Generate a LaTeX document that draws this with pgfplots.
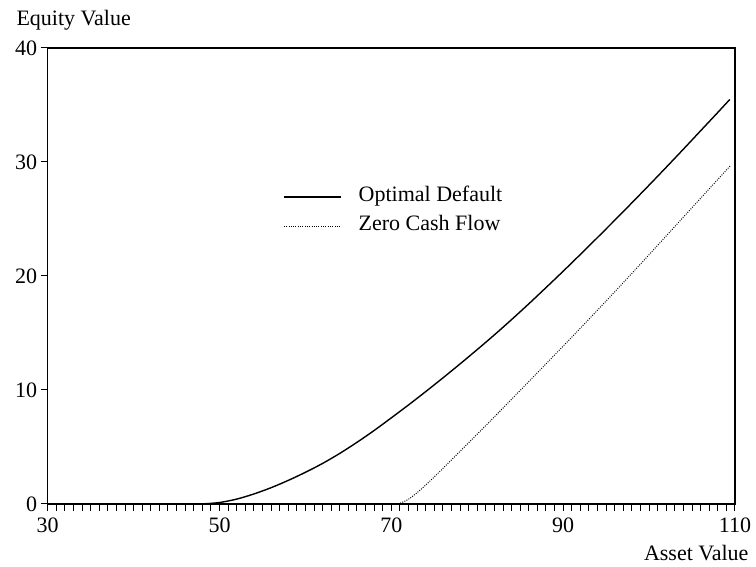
\documentclass[border=0pt]{standalone}
\usepackage{fontspec}
\setmainfont{Liberation Serif}
\usepackage{pgfplots}
\pgfplotsset{compat=1.18}
\newcommand{\chartfont}{\fontsize{22bp}{26bp}\selectfont}
\begin{document}
\begin{tikzpicture}
\useasboundingbox (0,0) rectangle (756bp,567bp);
\begin{axis}[
  at={(47.7bp,63bp)}, anchor=south west,
  scale only axis, width=687.3bp, height=456bp,
  xmin=30, xmax=110, ymin=0, ymax=40,
  xtick={30,50,70,90,110},
  minor x tick num=19,
  ytick={0,10,20,30,40},
  tick pos=left, tick align=outside,
  major tick length=7bp, minor tick length=7bp,
  axis line style={line width=1.3bp},
  tick style={line width=1bp, black},
  /pgf/number format/assume math mode=true,
  tick label style={font=\chartfont},
  xticklabel style={yshift=-3bp},
  every axis x label/.style={at={(rel axis cs:1,0)}, anchor=base east, xshift=17bp, yshift=-56bp},
  every axis y label/.style={at={(rel axis cs:0,1)}, anchor=base west, xshift=-34.7bp, yshift=22bp},
  label style={font=\chartfont},
  xlabel={Asset Value},
  ylabel={Equity Value},
  legend cell align=left,
  legend image code/.code={\draw[#1] (0bp,0bp) -- (57bp,0bp); \path (74bp,0bp);},
  legend style={draw=none, fill=none, font=\chartfont,
    at={(axis cs:57.4,25.65)}, anchor=west,
    inner sep=0pt, row sep=0pt,
    nodes={inner ysep=4bp, inner xsep=0bp, text height=15bp, text depth=6bp}},
]
\addplot[black, line width=1.4bp, smooth] coordinates {
(30,0) (47.5,0) (48,0.005) (50,0.13) (52,0.43) (54,0.88) (56,1.43) (58,2.07)
(60,2.78) (62,3.56) (64,4.44) (66,5.41) (68,6.45) (70,7.56) (72,8.69) (74,9.86)
(76,11.06) (78,12.29) (80,13.55) (82,14.84) (84,16.18) (86,17.56) (88,18.98)
(90,20.42) (92,21.89) (94,23.38) (96,24.89) (98,26.42) (100,27.97) (102,29.54)
(104,31.13) (106,32.74) (108,34.35) (109.4,35.49)
};
\addlegendentry{Optimal Default}
\addplot[black, line width=1bp, dash pattern=on 0.9bp off 1.4bp, smooth] coordinates {
(30,0) (70.5,0) (71,0.06) (72,0.42) (73,1.0) (74,1.66) (75,2.38) (76,3.12)
(78,4.62) (80,6.13) (82,7.65) (84,9.19) (86,10.74) (88,12.29) (90,13.85)
(92,15.42) (94,17.01) (96,18.61) (98,20.23) (100,21.87) (102,23.52) (104,25.17)
(106,26.82) (108,28.47) (109.5,29.71)
};
\addlegendentry{Zero Cash Flow}
\end{axis}
\end{tikzpicture}
\end{document}
